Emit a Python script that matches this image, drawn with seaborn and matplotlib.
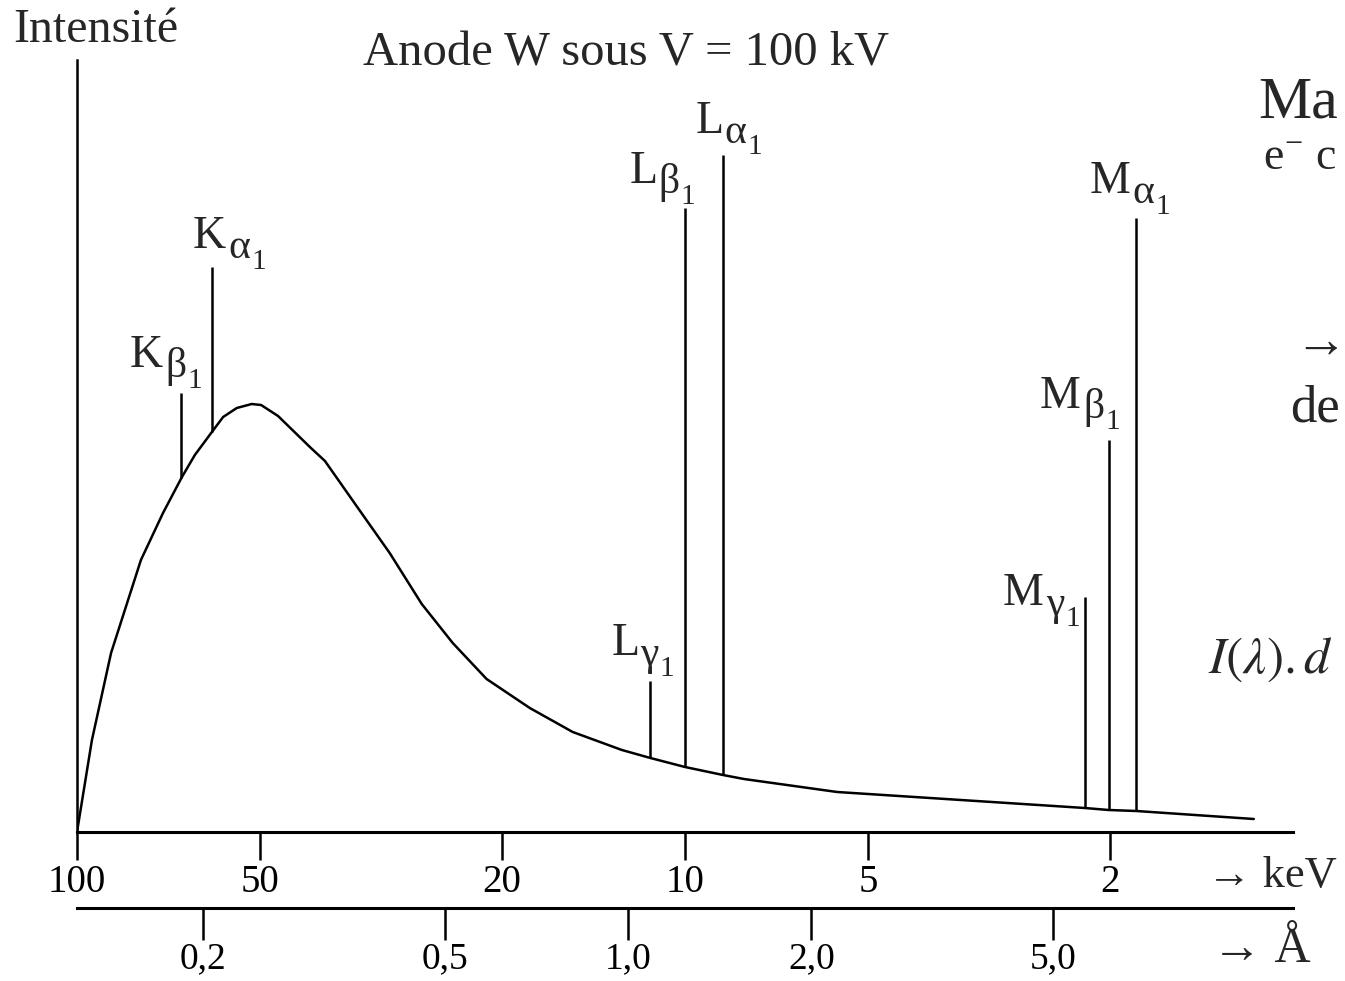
import numpy as np
import matplotlib
matplotlib.use("Agg")
import matplotlib.pyplot as plt
from matplotlib.ticker import NullLocator
import seaborn as sns

# ---------------- data ----------------
# continuous spectrum (bremsstrahlung), energy in keV, intensity in arbitrary units
curve_energy = [100.0, 94.5, 87.9, 78.5, 72.2, 67.2, 64.0, 60.0, 57.5, 54.6, 51.6, 49.8,
                46.7, 41.4, 39.1, 34.6, 30.6, 27.1, 24.1, 21.2, 18.0, 15.3, 12.7, 11.4,
                10.0, 8.66, 8.0, 5.62, 2.20, 2.01, 1.81, 1.16]
curve_intensity = [0.0, 9.2, 17.9, 27.2, 31.9, 35.5, 37.7, 40.0, 41.5, 42.4, 42.8, 42.7,
                   41.6, 38.5, 37.1, 32.5, 27.9, 22.8, 18.9, 15.3, 12.4, 10.0, 8.2, 7.4,
                   6.5, 5.7, 5.3, 4.0, 2.4, 2.2, 2.1, 1.3]

# characteristic lines
line_letters = ["K", "K", "L", "L", "L", "M", "M", "M"]
line_greek = ["β", "α", "γ", "β", "α", "γ", "β", "α"]
line_energy = [67.4, 60.0, 11.4, 10.0, 8.66, 2.20, 2.01, 1.81]
line_top = [43.9, 56.5, 15.1, 62.4, 67.7, 23.5, 39.2, 61.4]

# axes ticks
kev_ticks = [100, 50, 20, 10, 5, 2]
kev_labels = ["100", "50", "20", "10", "5", "2"]
ang_ticks = [0.2, 0.5, 1.0, 2.0, 5.0]
ang_labels = ["0,2", "0,5", "1,0", "2,0", "5,0"]

title = "Anode W sous V = 100 kV"
ylabel = "Intensité"

# ---------------- style ----------------
sns.set_theme(style="ticks")
plt.rcParams["font.family"] = ["Liberation Serif", "DejaVu Serif"]
plt.rcParams["mathtext.fontset"] = "stix"

W, H = 1345, 981
fig = plt.figure(figsize=(W / 100, H / 100), dpi=100)
fig.patch.set_facecolor("white")


def fx(px):
    return px / W


def fy(py):
    return 1 - py / H


ax = fig.add_axes([fx(77), fy(832), fx(1293) - fx(77), fy(60) - fy(832)])
ax.set_facecolor("white")
ax.set_xscale("log")

sns.lineplot(x=curve_energy, y=curve_intensity, ax=ax, color="black", linewidth=1.8,
             sort=False, estimator=None)

# vertical characteristic lines, starting on the continuous curve
logE = np.log10(curve_energy)[::-1]
base = np.interp(np.log10(line_energy), logE, np.array(curve_intensity)[::-1])
ax.vlines(line_energy, base, line_top, color="black", linewidth=1.8)

ax.set_xlim(100, 1)
ax.set_ylim(0, 77.2)
ax.set_yticks([])
ax.set_xlabel("")
ax.set_ylabel("")
for s in ["top", "right"]:
    ax.spines[s].set_visible(False)
ax.spines["bottom"].set_linewidth(2.2)
ax.spines["left"].set_linewidth(1.8)
ax.spines["bottom"].set_color("black")
ax.spines["left"].set_color("black")

ax.set_xticks(kev_ticks)
ax.set_xticklabels(kev_labels)
ax.xaxis.set_minor_locator(NullLocator())
ax.tick_params(axis="x", direction="out", length=20, width=1.8, labelsize=28, pad=3,
               colors="black")


def e2l(x):
    x = np.asarray(x, dtype=float)
    with np.errstate(divide="ignore"):
        return 12.398 / x


sec = ax.secondary_xaxis((832 - 908) / (832 - 60), functions=(e2l, e2l))
sec.set_xticks(ang_ticks)
sec.set_xticklabels(ang_labels)
sec.xaxis.set_minor_locator(NullLocator())
sec.spines["bottom"].set_linewidth(2.2)
sec.spines["bottom"].set_color("black")
sec.tick_params(axis="x", direction="out", length=23, width=1.8, labelsize=27, pad=1,
                colors="black")

# ---------------- texts ----------------
fig.text(fx(13), fy(42), ylabel, fontsize=34.5, ha="left", va="baseline")
fig.text(fx(363), fy(65), title, fontsize=35, ha="left", va="baseline")

label_pos = [(130, 367), (193, 248), (612, 655), (630, 183), (696, 133),
             (1003, 605), (1040, 408), (1090, 193)]
for (px, py), L, g in zip(label_pos, line_letters, line_greek):
    t1 = fig.text(fx(px), fy(py), L, fontsize=33, ha="left", va="baseline")
    dx = 0 if L == "L" else 2
    t2 = ax.annotate(g, xy=(1, 0), xycoords=t1, xytext=(dx, 0), textcoords="offset pixels",
                     fontsize=30, ha="left", va="baseline", annotation_clip=False)
    ax.annotate("1", xy=(1, 0), xycoords=t2, xytext=(1, -2), textcoords="offset pixels",
                fontsize=21, ha="left", va="baseline", annotation_clip=False)

fig.text(fx(1207), fy(887), "→ keV", fontsize=32, ha="left", va="baseline")
fig.text(fx(1212), fy(962), "→ Å", fontsize=36, ha="left", va="baseline")

# right-hand text fragments (the reference cuts them at the figure edge)
fig.text(fx(1258), fy(117), "Ma", fontsize=43, ha="left", va="baseline")
fig.text(fx(1263), fy(170), r"e$^{\mathregular{-}}$ c", fontsize=33, ha="left", va="baseline")
fig.text(fx(1294), fy(357), "→", fontsize=38, ha="left", va="baseline")
fig.text(fx(1290), fy(422), "de", fontsize=38, ha="left", va="baseline")
fig.text(fx(1208), fy(673), r"$I(\lambda).d$", fontsize=37, ha="left", va="baseline")

fig.savefig("out.png", dpi=100, facecolor="white")
